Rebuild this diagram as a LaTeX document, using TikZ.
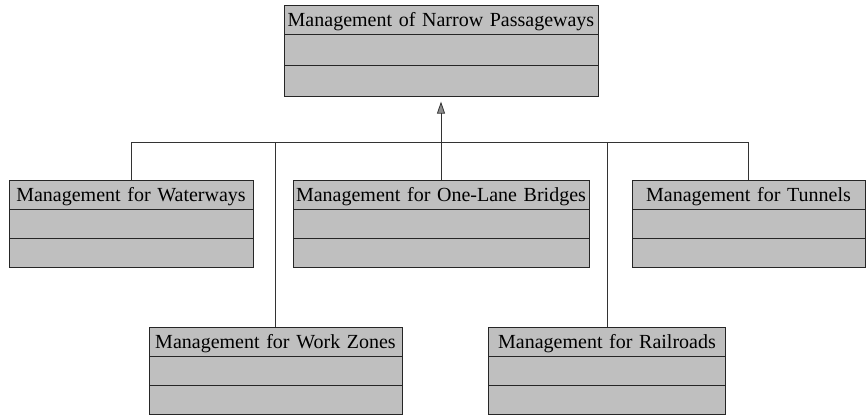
\documentclass[tikz,border=0pt]{standalone}
\usepackage{fontspec}
\setmainfont{Liberation Serif}
\usetikzlibrary{shapes.multipart,arrows.meta}
\tikzset{
  umlclass/.style={rectangle split, rectangle split parts=3, anchor=north,
    draw=black!85, line width=0.9pt, fill=black!25,
    text width=#1-4pt, align=center, inner xsep=2pt, inner ysep=0pt,
    rectangle split empty part height=28pt, rectangle split empty part depth=0pt,
    font=\fontsize{20}{24}\selectfont,
    execute at begin node=\rule[-7pt]{0pt}{28pt}},
  link/.style={draw=black!80, line width=0.8pt}
}
\begin{document}
\begin{tikzpicture}[x=1pt,y=1pt]
      \useasboundingbox (0,0) rectangle (867,-416);
      \draw
        (441,-5) node[umlclass=314pt, rectangle split empty part height=30pt] (mnp){Management of Narrow Passageways}
        (131,-180) node[umlclass=244pt] (wat){Management for Waterways}
        (441,-180) node[umlclass=296pt] (olb){Management for One-Lane Bridges}
        (748.5,-180) node[umlclass=233pt] (tun){Management for Tunnels}
        (275.5,-327) node[umlclass=253pt] (wkz){Management for Work Zones}
        (607,-327) node[umlclass=237pt] (rr){Management for Railroads};
      \coordinate (bus) at (0,-142);
      \begin{scope}[link]
        \draw (wat.north) -- (wat.north |- bus) -- (tun.north |- bus) -- (tun.north);
        \draw (wkz.north) -- (wkz.north |- bus);
        \draw (rr.north) -- (rr.north |- bus);
        \draw[-{Triangle[length=12pt,width=8pt,fill=black!45]}, shorten >=5pt] (olb.north) -- (mnp.south);
      \end{scope}
    \end{tikzpicture}
\end{document}
